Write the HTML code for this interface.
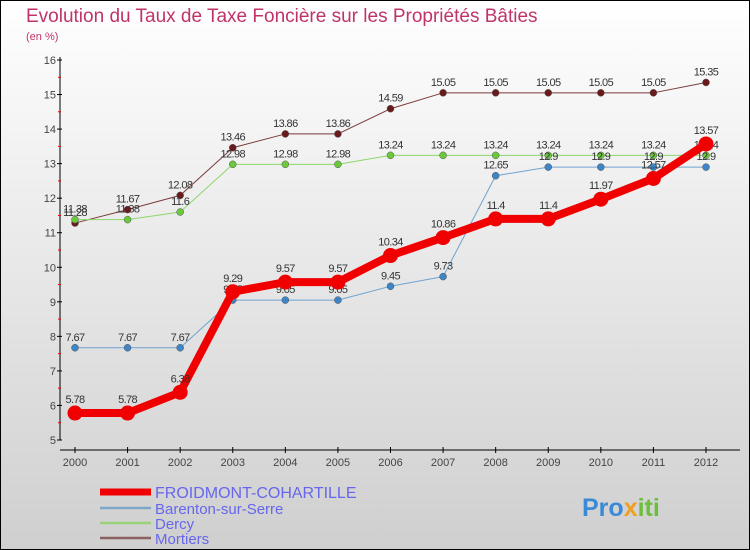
<!DOCTYPE html>
<html><head><meta charset="utf-8"><style>
body{margin:0}
svg{display:block;font-family:"Liberation Sans",sans-serif}
</style></head><body>
<svg id="c" width="750" height="550">
<defs><linearGradient id="bg" x1="0" y1="0" x2="0" y2="1"><stop offset="0" stop-color="#ffffff"/><stop offset="1" stop-color="#cfcfcf"/></linearGradient></defs>
<rect x="0.5" y="0.5" width="749" height="549" fill="url(#bg)" stroke="#000"/>
<text x="26" y="22" font-size="19" fill="#c0336a">Evolution du Taux de Taxe Foncière sur les Propriétés Bâties</text>
<text x="26" y="40" font-size="11" fill="#c0336a">(en %)</text>
<g id="axes"></g><g id="series"></g><g id="legend"></g>
<text x="582" y="516" font-size="25" font-weight="bold" fill="#3a8ad8">Pro<tspan fill="#f0a020">x</tspan><tspan fill="#6bbf3a">iti</tspan></text>
</svg>
<script>
const years=[2000,2001,2002,2003,2004,2005,2006,2007,2008,2009,2010,2011,2012];
const yTicks=[5,6,7,8,9,10,11,12,13,14,15,16];
const froidmont=[5.78,5.78,6.38,9.29,9.57,9.57,10.34,10.86,11.4,11.4,11.97,12.57,13.57];
const barenton=[7.67,7.67,7.67,9.05,9.05,9.05,9.45,9.73,12.65,12.9,12.9,12.9,12.9];
const dercy=[11.38,11.38,11.6,12.98,12.98,12.98,13.24,13.24,13.24,13.24,13.24,13.24,13.24];
const mortiers=[11.28,11.67,12.08,13.46,13.86,13.86,14.59,15.05,15.05,15.05,15.05,15.05,15.35];
const NS="http://www.w3.org/2000/svg";
const X=i=>75+i*(706-75)/12;
const Y=v=>440-(v-5)*(440-60)/11;
function mk(p,t,a){const e=document.createElementNS(NS,t);for(const k in a)e.setAttribute(k,a[k]);p.appendChild(e);return e;}
const ax=document.getElementById('axes');
let l=mk(ax,'line',{x1:60,y1:57,x2:60,y2:440,stroke:'#000'});


l=mk(ax,'line',{x1:60,y1:450,x2:740,y2:450,stroke:'#000'});


yTicks.forEach(v=>{
 mk(ax,'line',{x1:57,x2:62,y1:Y(v),y2:Y(v),stroke:'#000'});
 if(v<16)mk(ax,'line',{x1:58,x2:61,y1:Y(v+0.5),y2:Y(v+0.5),stroke:'#e00'});
 const t=mk(ax,'text',{x:56,y:Y(v)+4,'font-size':11,'text-anchor':'end',fill:'#444'});
 t.textContent=v;
 
 
});
years.forEach((yr,i)=>{
 mk(ax,'line',{x1:X(i),x2:X(i),y1:447,y2:453,stroke:'#000'});
 const t=mk(ax,'text',{x:X(i),y:466,'font-size':11,'text-anchor':'middle',fill:'#444'});
 t.textContent=yr;
 
 
});
const sg=document.getElementById('series');
const defs=[
 {d:mortiers,c:'#7a3a3a',f:'#6a1a1a',w:1,r:3.5,n:'mortiers'},
 {d:dercy,c:'#8cd86a',f:'#6bc83a',w:1,r:3.5,n:'dercy'},
 {d:barenton,c:'#6fa3d0',f:'#3d85c6',w:1,r:3.5,n:'barenton-sur-serre'},
 {d:froidmont,c:'#f00000',f:'#f00000',w:8,r:7.5,n:'froidmont-cohartille'}];
defs.forEach(s=>{
 const g=mk(sg,'g',{});
 
 
 const p=mk(g,'polyline',{points:s.d.map((v,i)=>X(i)+','+Y(v)).join(' '),fill:'none',stroke:s.c,'stroke-width':s.w,'stroke-linejoin':'round'});
 
 
 s.d.forEach((v,i)=>{
  const c=mk(g,'circle',{cx:X(i),cy:Y(v),r:s.r,fill:s.f,stroke:s.w>1?'none':'#555','stroke-width':0.5});
  
  
  const t=mk(g,'text',{x:X(i),y:Y(v)-(s.w>1?10:7),'font-size':11,'text-anchor':'middle',fill:'#333','letter-spacing':'-0.6'});
  t.textContent=v;
  
  
 });
});
const lg=document.getElementById('legend');
const names=['FROIDMONT-COHARTILLE','Barenton-sur-Serre','Dercy','Mortiers'];
const lc=['#f00000','#7fa8c8','#9ad27a','#8a6060'];
const lw=[7,2.5,2.5,2.5];
const ly=[492,508,523,538];
names.forEach((n,i)=>{
 const g=mk(lg,'g',{});
 
 
 mk(g,'line',{x1:100,x2:151,y1:ly[i],y2:ly[i],stroke:lc[i],'stroke-width':lw[i]});
 const t=mk(g,'text',{x:155,y:ly[i]+6,'font-size':i==0?16:15,fill:'#6666ee'});
 t.textContent=n;
});
</script>
</body></html>
